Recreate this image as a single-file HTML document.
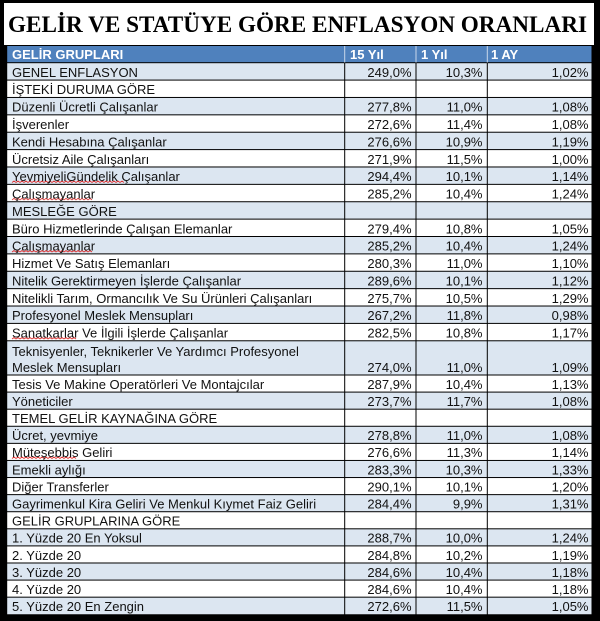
<!DOCTYPE html>
<html><head><meta charset="utf-8"><style>
html,body{margin:0;padding:0;background:#000;}
svg{display:block;}
text{font-family:"Liberation Sans",Arial,sans-serif;font-size:13px;fill:#111;}
.n{text-anchor:end;}
.h{fill:#fff;font-weight:bold;}
.t{font-family:"Liberation Serif","Times New Roman",serif;font-weight:bold;font-size:23.5px;fill:#000;}
</style></head><body>
<svg width="600" height="621" viewBox="0 0 600 621" xmlns="http://www.w3.org/2000/svg">
<rect x="0" y="0" width="600" height="621" fill="#000"/>
<rect x="4" y="3" width="590" height="42" fill="#fff"/>
<text class="t" x="8" y="32" textLength="579" lengthAdjust="spacingAndGlyphs">GELİR VE STATÜYE GÖRE ENFLASYON ORANLARI</text>
<rect x="7" y="46" width="585" height="16.7" fill="#4f81bd"/>
<g fill="#dce6f1">
<rect x="7" y="62.7" width="585" height="17.38"/>
<rect x="7" y="97.46" width="585" height="17.38"/>
<rect x="7" y="132.22" width="585" height="17.38"/>
<rect x="7" y="166.98" width="585" height="17.38"/>
<rect x="7" y="201.74" width="585" height="17.38"/>
<rect x="7" y="236.5" width="585" height="17.38"/>
<rect x="7" y="271.26" width="585" height="17.38"/>
<rect x="7" y="306.02" width="585" height="17.38"/>
<rect x="7" y="340.78" width="585" height="34.22"/>
<rect x="7" y="392.09" width="585" height="17.09"/>
<rect x="7" y="426.27" width="585" height="17.09"/>
<rect x="7" y="460.45" width="585" height="17.09"/>
<rect x="7" y="494.63" width="585" height="17.09"/>
<rect x="7" y="528.81" width="585" height="17.09"/>
<rect x="7" y="562.99" width="585" height="17.09"/>
<rect x="7" y="597.17" width="585" height="17.09"/>
</g>
<g fill="#fff">
<rect x="7" y="80.08" width="585" height="17.38"/>
<rect x="7" y="114.84" width="585" height="17.38"/>
<rect x="7" y="149.6" width="585" height="17.38"/>
<rect x="7" y="184.36" width="585" height="17.38"/>
<rect x="7" y="219.12" width="585" height="17.38"/>
<rect x="7" y="253.88" width="585" height="17.38"/>
<rect x="7" y="288.64" width="585" height="17.38"/>
<rect x="7" y="323.4" width="585" height="17.38"/>
<rect x="7" y="375" width="585" height="17.09"/>
<rect x="7" y="409.18" width="585" height="17.09"/>
<rect x="7" y="443.36" width="585" height="17.09"/>
<rect x="7" y="477.54" width="585" height="17.09"/>
<rect x="7" y="511.72" width="585" height="17.09"/>
<rect x="7" y="545.9" width="585" height="17.09"/>
<rect x="7" y="580.08" width="585" height="17.09"/>
</g>
<g fill="#000">
<rect x="4" y="45" width="590" height="1"/>
<rect x="7" y="62.2" width="585" height="1"/>
<rect x="7" y="79.58" width="585" height="1"/>
<rect x="7" y="96.96" width="585" height="1"/>
<rect x="7" y="114.34" width="585" height="1"/>
<rect x="7" y="131.72" width="585" height="1"/>
<rect x="7" y="149.1" width="585" height="1"/>
<rect x="7" y="166.48" width="585" height="1"/>
<rect x="7" y="183.86" width="585" height="1"/>
<rect x="7" y="201.24" width="585" height="1"/>
<rect x="7" y="218.62" width="585" height="1"/>
<rect x="7" y="236" width="585" height="1"/>
<rect x="7" y="253.38" width="585" height="1"/>
<rect x="7" y="270.76" width="585" height="1"/>
<rect x="7" y="288.14" width="585" height="1"/>
<rect x="7" y="305.52" width="585" height="1"/>
<rect x="7" y="322.9" width="585" height="1"/>
<rect x="7" y="340.28" width="585" height="1"/>
<rect x="7" y="374.5" width="585" height="1"/>
<rect x="7" y="391.59" width="585" height="1"/>
<rect x="7" y="408.68" width="585" height="1"/>
<rect x="7" y="425.77" width="585" height="1"/>
<rect x="7" y="442.86" width="585" height="1"/>
<rect x="7" y="459.95" width="585" height="1"/>
<rect x="7" y="477.04" width="585" height="1"/>
<rect x="7" y="494.13" width="585" height="1"/>
<rect x="7" y="511.22" width="585" height="1"/>
<rect x="7" y="528.31" width="585" height="1"/>
<rect x="7" y="545.4" width="585" height="1"/>
<rect x="7" y="562.49" width="585" height="1"/>
<rect x="7" y="579.58" width="585" height="1"/>
<rect x="7" y="596.67" width="585" height="1"/>
<rect x="6" y="45" width="1.2" height="570"/>
<rect x="344.2" y="62.7" width="1" height="552"/>
<rect x="415.5" y="62.7" width="1" height="552"/>
<rect x="486.8" y="62.7" width="1" height="552"/>
<rect x="591.5" y="45" width="1.2" height="570"/>
</g>
<g fill="#c9d7ea">
<rect x="344.2" y="46" width="1" height="16.5"/>
<rect x="415.5" y="46" width="1" height="16.5"/>
<rect x="486.8" y="46" width="1" height="16.5"/>
</g>
<text class="h" x="12" y="59">GELİR GRUPLARI</text>
<text class="h" x="350" y="59">15 Yıl</text>
<text class="h" x="421" y="59">1 Yıl</text>
<text class="h" x="491" y="59">1 AY</text>
<g fill="none" stroke="#e03030" stroke-width="0.8">
<path d="M12 182.5 l2 -1.5 l2 1.5 l2 -1.5 l2 1.5 l2 -1.5 l2 1.5 l2 -1.5 l2 1.5 l2 -1.5 l2 1.5 l2 -1.5 l2 1.5 l2 -1.5 l2 1.5 l2 -1.5 l2 1.5 l2 -1.5 l2 1.5 l2 -1.5 l2 1.5 l2 -1.5 l2 1.5 l2 -1.5 l2 1.5 l2 -1.5 l2 1.5 l2 -1.5 l2 1.5 l2 -1.5 l2 1.5 l2 -1.5 l2 1.5 l2 -1.5 l2 1.5 l2 -1.5 l2 1.5 l2 -1.5 l2 1.5 l2 -1.5 l2 1.5 l2 -1.5 l2 1.5 l2 -1.5 l2 1.5 l2 -1.5 l2 1.5 l2 -1.5 l2 1.5 l2 -1.5 l2 1.5 l2 -1.5 l2 1.5 l2 -1.5 l2 1.5 l2 -1.5 l2 1.5"/>
<path d="M12 199.9 l2 -1.5 l2 1.5 l2 -1.5 l2 1.5 l2 -1.5 l2 1.5 l2 -1.5 l2 1.5 l2 -1.5 l2 1.5 l2 -1.5 l2 1.5 l2 -1.5 l2 1.5 l2 -1.5 l2 1.5 l2 -1.5 l2 1.5 l2 -1.5 l2 1.5 l2 -1.5 l2 1.5 l2 -1.5 l2 1.5 l2 -1.5 l2 1.5 l2 -1.5 l2 1.5 l2 -1.5 l2 1.5 l2 -1.5 l2 1.5 l2 -1.5 l2 1.5 l2 -1.5 l2 1.5 l2 -1.5 l2 1.5 l2 -1.5 l2 1.5"/>
<path d="M12 252 l2 -1.5 l2 1.5 l2 -1.5 l2 1.5 l2 -1.5 l2 1.5 l2 -1.5 l2 1.5 l2 -1.5 l2 1.5 l2 -1.5 l2 1.5 l2 -1.5 l2 1.5 l2 -1.5 l2 1.5 l2 -1.5 l2 1.5 l2 -1.5 l2 1.5 l2 -1.5 l2 1.5 l2 -1.5 l2 1.5 l2 -1.5 l2 1.5 l2 -1.5 l2 1.5 l2 -1.5 l2 1.5 l2 -1.5 l2 1.5 l2 -1.5 l2 1.5 l2 -1.5 l2 1.5 l2 -1.5 l2 1.5 l2 -1.5 l2 1.5"/>
<path d="M12 339 l2 -1.5 l2 1.5 l2 -1.5 l2 1.5 l2 -1.5 l2 1.5 l2 -1.5 l2 1.5 l2 -1.5 l2 1.5 l2 -1.5 l2 1.5 l2 -1.5 l2 1.5 l2 -1.5 l2 1.5 l2 -1.5 l2 1.5 l2 -1.5 l2 1.5 l2 -1.5 l2 1.5 l2 -1.5 l2 1.5 l2 -1.5 l2 1.5 l2 -1.5 l2 1.5 l2 -1.5 l2 1.5 l2 -1.5 l2 1.5"/>
<path d="M12 458.5 l2 -1.5 l2 1.5 l2 -1.5 l2 1.5 l2 -1.5 l2 1.5 l2 -1.5 l2 1.5 l2 -1.5 l2 1.5 l2 -1.5 l2 1.5 l2 -1.5 l2 1.5 l2 -1.5 l2 1.5 l2 -1.5 l2 1.5 l2 -1.5 l2 1.5 l2 -1.5 l2 1.5 l2 -1.5 l2 1.5 l2 -1.5 l2 1.5 l2 -1.5 l2 1.5 l2 -1.5 l2 1.5 l2 -1.5 l2 1.5"/>
</g>
<text x="12" y="76.8">GENEL ENFLASYON</text><text class="n" x="411.5" y="76.8">249,0%</text><text class="n" x="482.5" y="76.8">10,3%</text><text class="n" x="588.5" y="76.8">1,02%</text>
<text x="12" y="94.2">İŞTEKİ DURUMA GÖRE</text>
<text x="12" y="111.6">Düzenli Ücretli Çalışanlar</text><text class="n" x="411.5" y="111.6">277,8%</text><text class="n" x="482.5" y="111.6">11,0%</text><text class="n" x="588.5" y="111.6">1,08%</text>
<text x="12" y="129">İşverenler</text><text class="n" x="411.5" y="129">272,6%</text><text class="n" x="482.5" y="129">11,4%</text><text class="n" x="588.5" y="129">1,08%</text>
<text x="12" y="146.4">Kendi Hesabına Çalışanlar</text><text class="n" x="411.5" y="146.4">276,6%</text><text class="n" x="482.5" y="146.4">10,9%</text><text class="n" x="588.5" y="146.4">1,19%</text>
<text x="12" y="163.8">Ücretsiz Aile Çalışanları</text><text class="n" x="411.5" y="163.8">271,9%</text><text class="n" x="482.5" y="163.8">11,5%</text><text class="n" x="588.5" y="163.8">1,00%</text>
<text x="12" y="181.1">YevmiyeliGündelik Çalışanlar</text><text class="n" x="411.5" y="181.1">294,4%</text><text class="n" x="482.5" y="181.1">10,1%</text><text class="n" x="588.5" y="181.1">1,14%</text>
<text x="12" y="198.5">Çalışmayanlar</text><text class="n" x="411.5" y="198.5">285,2%</text><text class="n" x="482.5" y="198.5">10,4%</text><text class="n" x="588.5" y="198.5">1,24%</text>
<text x="12" y="215.9">MESLEĞE GÖRE</text>
<text x="12" y="233.3">Büro Hizmetlerinde Çalışan Elemanlar</text><text class="n" x="411.5" y="233.3">279,4%</text><text class="n" x="482.5" y="233.3">10,8%</text><text class="n" x="588.5" y="233.3">1,05%</text>
<text x="12" y="250.7">Çalışmayanlar</text><text class="n" x="411.5" y="250.7">285,2%</text><text class="n" x="482.5" y="250.7">10,4%</text><text class="n" x="588.5" y="250.7">1,24%</text>
<text x="12" y="268.1">Hizmet Ve Satış Elemanları</text><text class="n" x="411.5" y="268.1">280,3%</text><text class="n" x="482.5" y="268.1">11,0%</text><text class="n" x="588.5" y="268.1">1,10%</text>
<text x="12" y="285.4">Nitelik Gerektirmeyen İşlerde Çalışanlar</text><text class="n" x="411.5" y="285.4">289,6%</text><text class="n" x="482.5" y="285.4">10,1%</text><text class="n" x="588.5" y="285.4">1,12%</text>
<text x="12" y="302.8">Nitelikli Tarım, Ormancılık Ve Su Ürünleri Çalışanları</text><text class="n" x="411.5" y="302.8">275,7%</text><text class="n" x="482.5" y="302.8">10,5%</text><text class="n" x="588.5" y="302.8">1,29%</text>
<text x="12" y="320.2">Profesyonel Meslek Mensupları</text><text class="n" x="411.5" y="320.2">267,2%</text><text class="n" x="482.5" y="320.2">11,8%</text><text class="n" x="588.5" y="320.2">0,98%</text>
<text x="12" y="337.6">Sanatkarlar Ve İlgili İşlerde Çalışanlar</text><text class="n" x="411.5" y="337.6">282,5%</text><text class="n" x="482.5" y="337.6">10,8%</text><text class="n" x="588.5" y="337.6">1,17%</text>
<text x="12" y="356">Teknisyenler, Teknikerler Ve Yardımcı Profesyonel</text>
<text x="12" y="371.8">Meslek Mensupları</text><text class="n" x="411.5" y="371.8">274,0%</text><text class="n" x="482.5" y="371.8">11,0%</text><text class="n" x="588.5" y="371.8">1,09%</text>
<text x="12" y="388.9">Tesis Ve Makine Operatörleri Ve Montajcılar</text><text class="n" x="411.5" y="388.9">287,9%</text><text class="n" x="482.5" y="388.9">10,4%</text><text class="n" x="588.5" y="388.9">1,13%</text>
<text x="12" y="406">Yöneticiler</text><text class="n" x="411.5" y="406">273,7%</text><text class="n" x="482.5" y="406">11,7%</text><text class="n" x="588.5" y="406">1,08%</text>
<text x="12" y="423.1">TEMEL GELİR KAYNAĞINA GÖRE</text>
<text x="12" y="440.2">Ücret, yevmiye</text><text class="n" x="411.5" y="440.2">278,8%</text><text class="n" x="482.5" y="440.2">11,0%</text><text class="n" x="588.5" y="440.2">1,08%</text>
<text x="12" y="457.2">Müteşebbis Geliri</text><text class="n" x="411.5" y="457.2">276,6%</text><text class="n" x="482.5" y="457.2">11,3%</text><text class="n" x="588.5" y="457.2">1,14%</text>
<text x="12" y="474.3">Emekli aylığı</text><text class="n" x="411.5" y="474.3">283,3%</text><text class="n" x="482.5" y="474.3">10,3%</text><text class="n" x="588.5" y="474.3">1,33%</text>
<text x="12" y="491.4">Diğer Transferler</text><text class="n" x="411.5" y="491.4">290,1%</text><text class="n" x="482.5" y="491.4">10,1%</text><text class="n" x="588.5" y="491.4">1,20%</text>
<text x="12" y="508.5">Gayrimenkul Kira Geliri Ve Menkul Kıymet Faiz Geliri</text><text class="n" x="411.5" y="508.5">284,4%</text><text class="n" x="482.5" y="508.5">9,9%</text><text class="n" x="588.5" y="508.5">1,31%</text>
<text x="12" y="525.6">GELİR GRUPLARINA GÖRE</text>
<text x="12" y="542.7">1. Yüzde 20 En Yoksul</text><text class="n" x="411.5" y="542.7">288,7%</text><text class="n" x="482.5" y="542.7">10,0%</text><text class="n" x="588.5" y="542.7">1,24%</text>
<text x="12" y="559.8">2. Yüzde 20</text><text class="n" x="411.5" y="559.8">284,8%</text><text class="n" x="482.5" y="559.8">10,2%</text><text class="n" x="588.5" y="559.8">1,19%</text>
<text x="12" y="576.9">3. Yüzde 20</text><text class="n" x="411.5" y="576.9">284,6%</text><text class="n" x="482.5" y="576.9">10,4%</text><text class="n" x="588.5" y="576.9">1,18%</text>
<text x="12" y="594">4. Yüzde 20</text><text class="n" x="411.5" y="594">284,6%</text><text class="n" x="482.5" y="594">10,4%</text><text class="n" x="588.5" y="594">1,18%</text>
<text x="12" y="611">5. Yüzde 20 En Zengin</text><text class="n" x="411.5" y="611">272,6%</text><text class="n" x="482.5" y="611">11,5%</text><text class="n" x="588.5" y="611">1,05%</text>
</svg>
</body></html>
